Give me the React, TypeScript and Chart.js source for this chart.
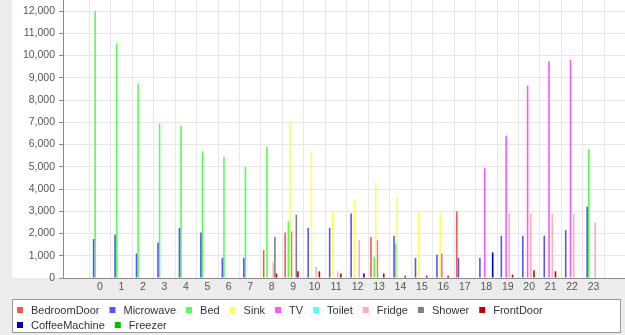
import React, { useEffect, useRef } from "react";
import { Chart, registerables } from "chart.js";

Chart.register(...registerables);

// ---- data ----
const hours = ["0","1","2","3","4","5","6","7","8","9","10","11","12","13","14","15","16","17","18","19","20","21","22","23"];

const seriesNames = ["BedroomDoor","Microwave","Bed","Sink","TV","Toilet","Fridge","Shower","FrontDoor","CoffeeMachine","Freezer"];
const seriesColors = ["#ff5555","#5555ff","#55ff55","#ffff55","#ff55ff","#55ffff","#ffafaf","#808080","#c00000","#0000c0","#00c000"];

const bedroomDoor   = [0,0,0,0,0,0,0,0,1250,2050,0,0,0,1850,0,0,0,3000,0,0,0,0,0,0];
const microwave     = [1750,1950,1100,1600,2250,2050,900,900,0,0,2250,2250,2900,0,1900,900,1050,900,900,1900,1900,1900,2150,3200];
const bed           = [12000,10550,8750,6950,6850,5700,5450,5000,5900,2550,0,0,0,950,1550,0,0,0,0,0,0,0,0,5800];
const sink          = [0,0,0,0,0,0,0,0,0,7050,5700,3000,3500,4300,3650,3000,2950,0,0,0,0,0,0,0];
const tv            = [0,0,0,0,0,0,0,0,0,2100,0,0,0,1700,0,0,1100,0,4950,6400,8650,9750,9800,0];
const toilet        = [0,0,0,0,0,0,0,0,0,0,0,0,0,0,0,0,0,0,0,0,0,0,0,0];
const fridge        = [0,0,0,0,0,0,0,0,700,0,500,300,1700,0,0,0,0,0,0,2900,2900,2900,2900,2500];
const shower        = [0,0,0,0,0,0,0,0,1850,2850,0,0,0,0,0,0,0,0,0,0,0,0,0,0];
const frontDoor     = [0,0,0,0,0,0,0,0,200,300,300,200,0,200,100,100,100,0,0,150,350,300,0,0];
const coffeeMachine = [0,0,0,0,0,0,0,0,0,0,0,0,200,0,0,0,0,0,1150,0,0,0,0,0];
const freezer       = [0,0,0,0,0,0,0,0,0,0,0,0,0,0,0,0,0,0,0,0,0,0,0,0];

const seriesValues = [bedroomDoor, microwave, bed, sink, tv, toilet, fridge, shower, frontDoor, coffeeMachine, freezer];

const yTickValues = [0,1000,2000,3000,4000,5000,6000,7000,8000,9000,10000,11000,12000];
const yMax = 12500;

const FONT = "'Liberation Sans', Arial, Helvetica, sans-serif";

// panel backgrounds
const panelPlugin = {
  id: "panelBg",
  beforeDraw(chart: any) {
    const { ctx, width, height, chartArea } = chart;
    ctx.save();
    ctx.fillStyle = "#ececec";
    ctx.fillRect(0, 0, width, height);
    ctx.fillStyle = "#ffffff";
    ctx.fillRect(12, 0, width - 12, chartArea.bottom);
    ctx.restore();
  },
};

// boxed legend (JFreeChart style)
const boxLegendPlugin = {
  id: "boxLegend",
  afterDraw(chart: any) {
    const { ctx, width } = chart;
    const top = chart.chartArea.bottom + 21;
    const boxL = 12;
    const boxR = width - 4;
    const boxH = 34;
    ctx.save();
    ctx.fillStyle = "#ffffff";
    ctx.fillRect(boxL, top, boxR - boxL, boxH);
    ctx.strokeStyle = "#9a9a9a";
    ctx.lineWidth = 1;
    ctx.strokeRect(boxL + 0.5, top + 0.5, boxR - boxL - 1, boxH - 1);
    ctx.font = `11px ${FONT}`;
    ctx.textBaseline = "middle";
    ctx.textAlign = "left";
    let x = boxL + 5;
    let y = top + 11;
    chart.data.datasets.forEach((ds: any) => {
      const tw = ctx.measureText(ds.label).width;
      if (x + 14 + tw > boxR - 4) {
        x = boxL + 5;
        y += 15;
      }
      ctx.fillStyle = ds.backgroundColor;
      ctx.fillRect(x, Math.round(y - 3), 6, 6);
      ctx.fillStyle = "#333333";
      ctx.fillText(ds.label, x + 14, y + 0.5);
      x += 14 + tw + 10;
    });
    ctx.restore();
  },
};

export default function App() {
  const ref = useRef<HTMLCanvasElement | null>(null);

  useEffect(() => {
    document.body.style.margin = "0";
    const canvas = ref.current;
    if (!canvas) return;
    Chart.defaults.font.family = FONT;

    const first = 100; // pixel centre of category 0 (layout only)
    const step = 21.46;
    const left = 63;
    const right = 625;
    const xMin = -(first - left) / step;
    const xMax = (right - first) / step;

    const chart = new Chart(canvas, {
      type: "bar",
      data: {
        labels: hours,
        datasets: seriesNames.map((name, i) => ({
          label: name,
          data: seriesValues[i],
          backgroundColor: seriesColors[i],
          borderWidth: 0,
          categoryPercentage: 0.82,
          barPercentage: 1.0,
        })),
      },
      options: {
        animation: false,
        responsive: false,
        devicePixelRatio: 1,
        locale: "en-US",
        layout: { padding: { left: 0, right: 0, top: 0, bottom: 36 } },
        plugins: {
          legend: { display: false },
          tooltip: { enabled: false },
          title: { display: false },
        },
        scales: {
          x: {
            type: "linear",
            min: xMin,
            max: xMax,
            offset: false,
            afterBuildTicks: (s: any) => {
              s.ticks = hours.map((_h, i) => ({ value: i }));
            },
            grid: { drawTicks: false, color: "#e8e8e8" },
            border: { color: "#8a8a8a", width: 1 },
            ticks: {
              autoSkip: false,
              maxRotation: 0,
              minRotation: 0,
              padding: 3,
              color: "#555555",
              font: { family: FONT, size: 10.5 },
              callback: (v: any) => hours[Number(v)] ?? "",
            },
            afterFit: (s: any) => {
              s.height = 21;
              s.paddingLeft = 0;
              s.paddingRight = 0;
            },
          },
          y: {
            min: 0,
            max: yMax,
            afterBuildTicks: (s: any) => {
              s.ticks = yTickValues.map((v) => ({ value: v }));
            },
            grid: { color: "#e6e6e6", tickColor: "#8a8a8a", tickLength: 4 },
            border: { color: "#8a8a8a", width: 1 },
            ticks: {
              padding: 4,
              color: "#555555",
              font: { family: FONT, size: 10.5 },
            },
            afterFit: (s: any) => {
              s.width = 63;
              s.paddingTop = 0;
              s.paddingBottom = 0;
            },
          },
        },
      },
      plugins: [panelPlugin, boxLegendPlugin],
    } as any);

    return () => chart.destroy();
  }, []);

  return (
    <div style={{ width: 625, height: 335 }}>
      <canvas ref={ref} width={625} height={335} style={{ display: "block" }} />
    </div>
  );
}
